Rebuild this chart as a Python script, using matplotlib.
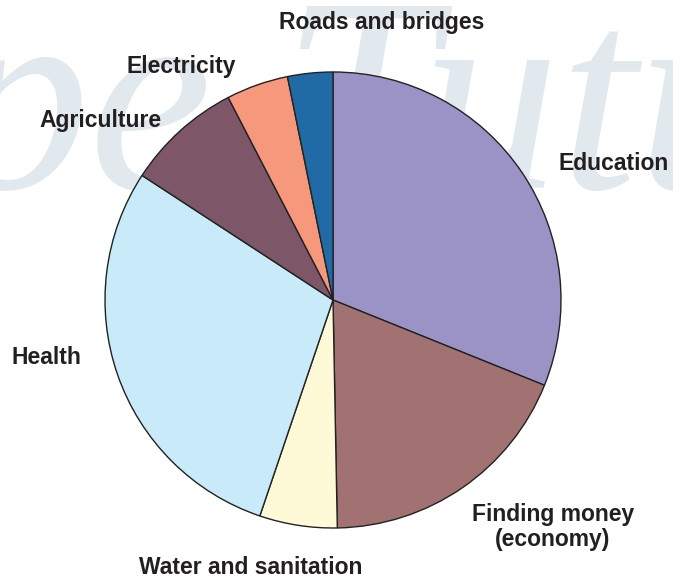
import matplotlib
matplotlib.use("Agg")
import matplotlib.pyplot as plt

categories = ["Education", "Finding money\n(economy)", "Water and sanitation", "Health",
              "Agriculture", "Electricity", "Roads and bridges"]
values = [31.1, 18.6, 5.5, 29.0, 8.2, 4.4, 3.2]
colors = ["#9b93c6", "#a27272", "#fef9d6", "#c8eaf9", "#7d5668", "#f5987b", "#206ba6"]
label_pos = [(614, 164), (553, 527), (251, 568), (46, 357), (100, 121), (181, 67), (382, 23)]

W, H = 673, 578
fig = plt.figure(figsize=(W / 100, H / 100), dpi=100)
ax = fig.add_axes([0, 0, 1, 1])
ax.set_xlim(0, W)
ax.set_ylim(0, H)
ax.axis("off")

# watermark
ax.text(-50, H - 188, "pe Tutu", fontsize=200, family="Liberation Serif", style="italic",
        color="#e1e9ef", ha="left", va="baseline", zorder=0)

wedges, _ = ax.pie(values, colors=colors, startangle=90, counterclock=False,
                   center=(333, H - 300), radius=228,
                   wedgeprops=dict(edgecolor="#222222", linewidth=1.0), frame=True)
ax.set_xlim(0, W)
ax.set_ylim(0, H)
ax.set_aspect("equal")
ax.axis("off")
for w in wedges:
    w.set_zorder(2)

for cat, (x, y) in zip(categories, label_pos):
    ax.text(x, H - y, cat, ha="center", va="center", fontsize=16.5, fontweight="bold",
            family="Liberation Sans", color="#231f20", linespacing=1.15, zorder=3)

fig.savefig("out.png", dpi=100)
